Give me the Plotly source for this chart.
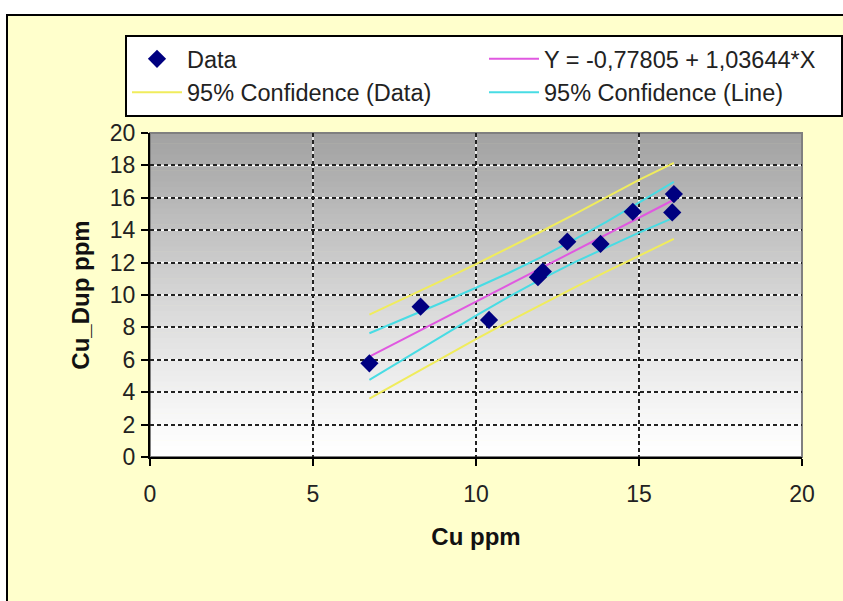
import plotly.graph_objects as go

# ---- data ----
cu = [6.73, 8.30, 10.40, 11.90, 12.05, 12.80, 13.82, 14.81, 16.02, 16.07]
cu_dup = [5.78, 9.28, 8.46, 11.10, 11.45, 13.29, 13.15, 15.14, 15.10, 16.23]

x_fit = [6.73, 8, 9, 10, 11, 12, 13, 14, 15, 16.07]
fit = [6.20, 7.51, 8.55, 9.59, 10.62, 11.66, 12.70, 13.73, 14.77, 15.88]
conf_line_up = [7.64, 8.71, 9.57, 10.45, 11.36, 12.34, 13.40, 14.52, 15.69, 16.98]
conf_line_lo = [4.76, 6.31, 7.53, 8.73, 9.88, 10.98, 12.00, 12.94, 13.85, 14.78]
conf_data_up = [8.79, 9.97, 10.93, 11.91, 12.89, 13.92, 14.96, 16.02, 17.11, 18.15]
conf_data_lo = [3.61, 5.05, 6.17, 7.27, 8.35, 9.40, 10.44, 11.44, 12.43, 13.46]

x_ticks = [0, 5, 10, 15, 20]
y_ticks = [0, 2, 4, 6, 8, 10, 12, 14, 16, 18, 20]

FONT = "Liberation Sans, Arial, sans-serif"
YELLOW = "#F0EC5C"
CYAN = "#48DCE4"
PINK = "#E058E0"
NAVY = "#000080"

fig = go.Figure()

# yellow: 95% confidence (data)
fig.add_trace(go.Scatter(x=x_fit, y=conf_data_up, mode="lines", line=dict(color=YELLOW, width=2),
                         name="95% Confidence (Data)", legendgroup="cd", legendrank=3))
fig.add_trace(go.Scatter(x=x_fit, y=conf_data_lo, mode="lines", line=dict(color=YELLOW, width=2),
                         name="95% Confidence (Data)", legendgroup="cd", showlegend=False))
# cyan: 95% confidence (line)
fig.add_trace(go.Scatter(x=x_fit, y=conf_line_up, mode="lines", line=dict(color=CYAN, width=2),
                         name="95% Confidence (Line)", legendgroup="cl", legendrank=4))
fig.add_trace(go.Scatter(x=x_fit, y=conf_line_lo, mode="lines", line=dict(color=CYAN, width=2),
                         name="95% Confidence (Line)", legendgroup="cl", showlegend=False))
# fit
fig.add_trace(go.Scatter(x=x_fit, y=fit, mode="lines", line=dict(color=PINK, width=2),
                         name="Y = -0,77805 + 1,03644*X", legendrank=2))
# data
fig.add_trace(go.Scatter(x=cu, y=cu_dup, mode="markers",
                         marker=dict(symbol="diamond", size=14, color=NAVY, line=dict(width=0)),
                         name="Data", legendrank=1))

shapes = []
# outer frame (pale yellow with black border)
shapes.append(dict(type="rect", xref="paper", yref="paper", layer="below",
                   x0=(7 - 150) / 652, x1=(860 - 150) / 652,
                   y0=(457 - 620) / 324, y1=(457 - 15) / 324,
                   fillcolor="#FFFFCC", line=dict(color="black", width=2)))
# gradient background of plot area
N = 60
for i in range(N):
    t = i / (N - 1)
    v = int(round(255 - (255 - 162) * t ** 1.15))
    shapes.append(dict(type="rect", xref="x domain", yref="y domain", layer="below",
                       x0=0, x1=1, y0=i / N, y1=(i + 1) / N + 0.002,
                       fillcolor=f"rgb({v},{v},{v})", line=dict(width=0)))
# white underlay for the dashed grid (gives the white gaps)
for yv in y_ticks[1:-1]:
    shapes.append(dict(type="line", xref="x domain", yref="y", layer="below",
                       x0=0, x1=1, y0=yv, y1=yv, line=dict(color="white", width=1.5)))
for xv in x_ticks[1:-1]:
    shapes.append(dict(type="line", xref="x", yref="y domain", layer="below",
                       x0=xv, x1=xv, y0=0, y1=1, line=dict(color="white", width=1.5)))
# plot area border (gray)
shapes.append(dict(type="rect", xref="x domain", yref="y domain", layer="below",
                   x0=0, x1=1, y0=0, y1=1, line=dict(color="#808080", width=2)))

fig.update_layout(
    width=843, height=601, autosize=False,
    margin=dict(l=150, r=41, t=133, b=144, pad=0),
    paper_bgcolor="white", plot_bgcolor="white",
    font=dict(family=FONT, size=22, color="#222222"),
    shapes=shapes,
    showlegend=True,
    legend=dict(orientation="h", x=-0.001, y=(457 - 35) / 324,
                xanchor="left", yanchor="top",
                bgcolor="white", bordercolor="black", borderwidth=2,
                entrywidth=292, entrywidthmode="pixels", itemwidth=50,
                font=dict(family=FONT, size=23.5, color="#222222"),
                traceorder="normal", tracegroupgap=0),
    xaxis=dict(range=[0, 20], tickvals=x_ticks, ticktext=[str(v) for v in x_ticks],
               showgrid=True, gridcolor="#222222", griddash="4px,3px", gridwidth=1.6,
               showline=True, linecolor="black", linewidth=2,
               ticks="outside", ticklen=7, tickcolor="black", tickwidth=1.5,
               ticklabelstandoff=8, zeroline=False,
               tickfont=dict(size=23),
               title=dict(text="<b>Cu ppm</b>", font=dict(family=FONT, size=24, color="#111"), standoff=23)),
    yaxis=dict(range=[0, 20], tickvals=y_ticks, ticktext=[str(v) for v in y_ticks],
               showgrid=True, gridcolor="#222222", griddash="4px,3px", gridwidth=1.6,
               showline=True, linecolor="black", linewidth=2,
               ticks="outside", ticklen=7, tickcolor="black", tickwidth=1.5,
               ticklabelstandoff=1, zeroline=False,
               tickfont=dict(size=23),
               title=dict(text="<b>Cu_Dup ppm</b>", font=dict(family=FONT, size=24, color="#111"), standoff=13)),
)

fig.write_html("out.html")
